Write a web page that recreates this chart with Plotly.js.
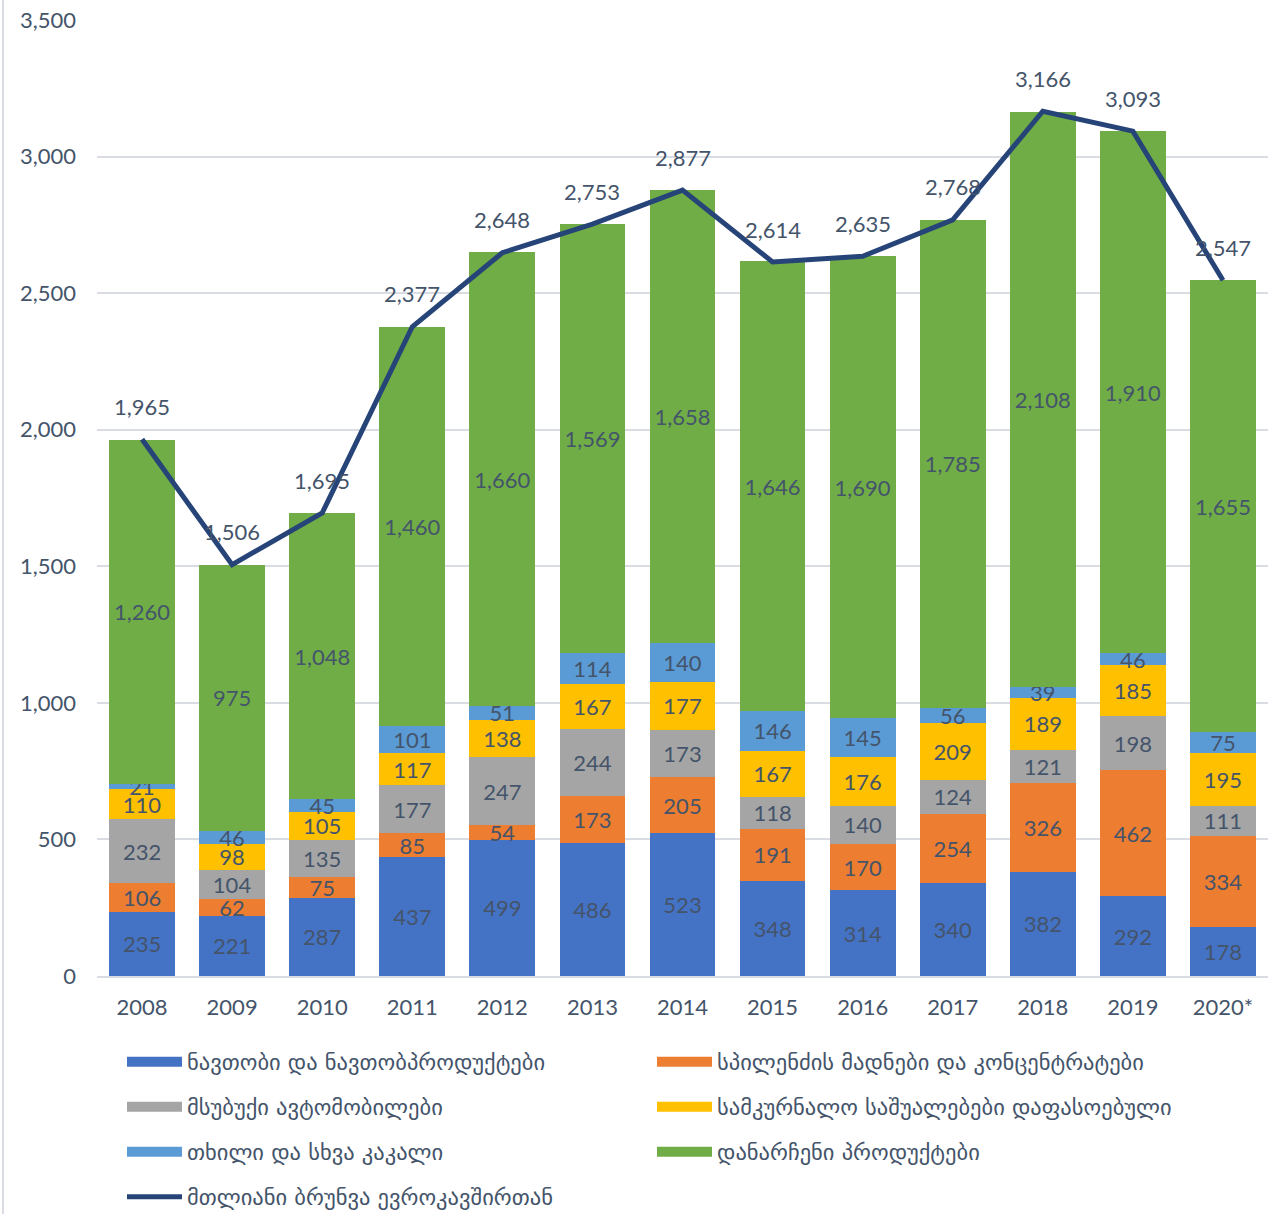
<!DOCTYPE html>
<html>
<head>
<meta charset="utf-8">
<script src="https://cdn.plot.ly/plotly-3.0.1.min.js"></script>
<style>html,body{margin:0;padding:0;background:#fff;}#chart{width:1269px;height:1214px;}</style>
</head>
<body>
<div id="chart"></div>
<script>
const years = ['2008','2009','2010','2011','2012','2013','2014','2015','2016','2017','2018','2019','2020*'];
const oil = [235,221,287,437,499,486,523,348,314,340,382,292,178];
const copper = [106,62,75,85,54,173,205,191,170,254,326,462,334];
const cars = [232,104,135,177,247,244,173,118,140,124,121,198,111];
const medicines = [110,98,105,117,138,167,177,167,176,209,189,185,195];
const nuts = [21,46,45,101,51,114,140,146,145,56,39,46,75];
const others = [1260,975,1048,1460,1660,1569,1658,1646,1690,1785,2108,1910,1655];
const total = [1965,1506,1695,2377,2648,2753,2877,2614,2635,2768,3166,3093,2547];

const names = [
  'ნავთობი და ნავთობპროდუქტები',
  'სპილენძის მადნები და კონცენტრატები',
  'მსუბუქი ავტომობილები',
  'სამკურნალო საშუალებები დაფასოებული',
  'თხილი და სხვა კაკალი',
  'დანარჩენი პროდუქტები',
  'მთლიანი ბრუნვა ევროკავშირთან'
];
const colors = ['#4472C4','#ED7D31','#A5A5A5','#FFC000','#5B9BD5','#70AD47'];
const lineColor = '#264478';
const series = [oil, copper, cars, medicines, nuts, others];
const legendRows = ['legend','legend','legend2','legend2','legend3','legend3','legend4'];

const FONT = "Lato, 'DejaVu Sans', sans-serif";
const LFONT = "'DejaVu Sans', sans-serif";
const TXT = '#44546A';
const fmt = v => v.toLocaleString('en-US');

const traces = series.map((s, i) => ({
  type: 'bar',
  name: names[i],
  legendgroup: 'g' + i,
  showlegend: false,
  x: years,
  y: s,
  marker: {color: colors[i], line: {width: 0}},
  text: s.map(fmt),
  textposition: 'inside',
  insidetextanchor: 'middle',
  constraintext: 'none',
  textangle: 0,
  textfont: {family: FONT, size: 22, color: TXT},
  hoverinfo: 'x+y+name'
}));

traces.push({
  type: 'scatter',
  mode: 'lines',
  name: names[6],
  legend: legendRows[6],
  x: years,
  y: total,
  line: {color: lineColor, width: 5},
  cliponaxis: false
});

// legend swatches (legend-only entries, nothing drawn in the plot)
series.forEach((s, i) => {
  traces.push({
    type: 'scatter',
    mode: 'lines',
    name: names[i],
    legendgroup: 'g' + i,
    legend: legendRows[i],
    x: [years[0]],
    y: [null],
    line: {color: colors[i], width: 15},
    hoverinfo: 'skip'
  });
});

// total labels above the line points (x given as category index)
const annotations = total.map((v, i) => ({
  x: i, y: v, xref: 'x', yref: 'y',
  text: fmt(v), showarrow: false,
  yanchor: 'middle', yshift: 33,
  font: {family: FONT, size: 22, color: TXT}
}));

const plotH = 1214 - 20 - 238;
const plotW = 1269 - 97 - 1;
const legBase = {
  orientation: 'h',
  xanchor: 'left',
  yanchor: 'middle',
  x: (122 - 97) / plotW,
  entrywidth: 460,
  entrywidthmode: 'pixels',
  traceorder: 'normal',
  itemwidth: 55,
  bgcolor: 'rgba(0,0,0,0)',
  font: {family: LFONT, size: 22.5, color: TXT}
};
const legY = v => (976 - v) / plotH;

const layout = {
  width: 1269,
  height: 1214,
  barmode: 'stack',
  bargap: 0.27,
  margin: {l: 97, r: 1, t: 20, b: 238, autoexpand: false},
  paper_bgcolor: '#fff',
  plot_bgcolor: '#fff',
  font: {family: FONT, size: 22, color: TXT},
  showlegend: true,
  xaxis: {
    type: 'category',
    categoryorder: 'array',
    categoryarray: years,
    range: [-0.5, years.length - 0.5],
    showgrid: false,
    showline: true,
    linecolor: '#D9DDE3',
    linewidth: 2,
    ticks: '',
    tickfont: {family: FONT, size: 22, color: TXT},
    ticklabelstandoff: 11
  },
  yaxis: {
    range: [0, 3500],
    dtick: 500,
    tickformat: ',d',
    showgrid: true,
    gridcolor: '#D9DDE3',
    gridwidth: 2,
    zeroline: false,
    showline: false,
    ticks: '',
    tickfont: {family: FONT, size: 22, color: TXT},
    ticklabelstandoff: 20
  },
  legend: Object.assign({}, legBase, {y: legY(1062)}),
  legend2: Object.assign({}, legBase, {y: legY(1107)}),
  legend3: Object.assign({}, legBase, {y: legY(1152)}),
  legend4: Object.assign({}, legBase, {y: legY(1197)}),
  annotations: annotations,
  shapes: [{
    type: 'line', xref: 'paper', yref: 'paper',
    x0: -94 / plotW, x1: -94 / plotW, y0: -238 / plotH, y1: 1 + 20 / plotH,
    line: {color: '#D9DDE3', width: 2}
  }]
};

Plotly.newPlot('chart', traces, layout, {displayModeBar: false, staticPlot: true});
</script>
</body>
</html>
